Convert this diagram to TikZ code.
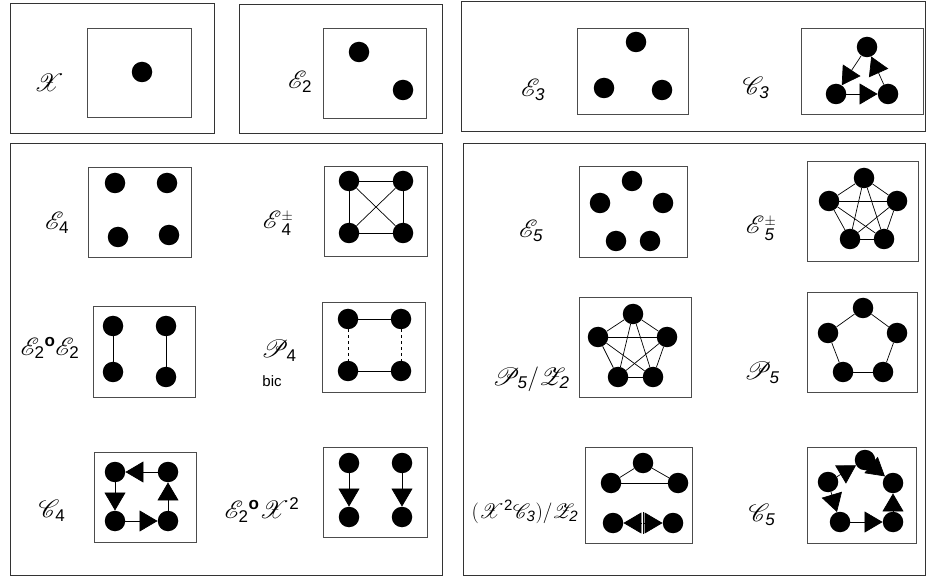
\documentclass[tikz,border=0pt]{standalone}
\usepackage{amsmath}
\usepackage{mathrsfs}
\usepackage{fontspec}
\setsansfont{Liberation Sans}
\usetikzlibrary{arrows.meta}
\DeclareMathSizes{24}{24}{17}{13}
\DeclareMathSizes{21}{21}{15}{12}

\tikzset{
  dot/.style={circle, fill=black, inner sep=0pt, minimum size=20.5pt},
  frame/.style={draw=black!80, line width=0.9pt},
  box/.style={draw=black!70, line width=0.8pt},
  lbl/.style={font=\fontsize{24}{28}\selectfont},
  edge/.style={line width=0.7pt},
  arr/.style={line width=0.7pt, -{Triangle[length=18pt,width=21pt]}},
}
% sign above, index below
\newcommand{\pmsub}[1]{\rlap{\raisebox{8pt}{\fontsize{14}{16}\selectfont$\pm$}}\raisebox{-7pt}{\sffamily\fontsize{17}{20}\selectfont #1}}

\begin{document}
\begin{tikzpicture}[x=1pt, y=-1pt]
  \useasboundingbox (0,0) rectangle (927,577);

  % outer panels
  \draw[frame] (10,3) rectangle (214,133);
  \draw[frame] (239,4) rectangle (442,133);
  \draw[frame] (461,1) rectangle (925,131);
  \draw[frame] (10,143) rectangle (442,575);
  \draw[frame] (463,143) rectangle (925,575);

  % graph boxes
  \foreach \xa/\ya/\xb/\yb in {87/28/191/117, 323/28/426/118, 577/28/688/114, 801/28/923/114,
      88/167/191/257, 324/166/427/256, 93/306/195/397, 322/302/425/392,
      94/452/196/542, 323/447/427/537,
      579/166/687/257, 807/161/918/261, 579/297/691/397, 807/292/917/392,
      585/447/692/543, 807/447/916/543} {
    \draw[box] (\xa,\ya) rectangle (\xb,\yb);
  }

  % labels
  \node[lbl] (lx) at (49,83) {$\mathscr{X}$};
  \node[lbl] (le2) at (300,82) {$\mathscr{E}_{\textsf{2}}$};
  \node[lbl] (le3) at (533,90) {$\mathscr{E}_{\textsf{\itshape 3}}$};
  \node[lbl] (lc3) at (756,88) {$\mathscr{C}_{\textsf{\itshape 3}}$};
  \node[lbl] (le4) at (57,223) {$\mathscr{E}_{\textsf{4}}$};
  \node[lbl] (le4pm) at (277,223) {$\mathscr{E}$\pmsub{4}};
  \node[lbl] (le2e2) at (50,348) {$\mathscr{E}_{\textsf{2}}{}^{\textsf{\bfseries o}}\mathscr{E}_{\textsf{2}}$};
  \node[lbl] (lp4) at (279,351) {$\mathscr{P}_{\textsf{4}}$};
  \node[font=\sffamily\fontsize{15}{18}\selectfont] (lbic) at (272,381) {bic};
  \node[lbl] (lc4) at (52,511) {$\mathscr{C}_{\textsf{4}}$};
  \node[lbl] (le2x2) at (262,510) {$\mathscr{E}_{\textsf{2}}{}^{\textsf{\bfseries o}}\mathscr{X}^{\textsf{2}}$};
  \node[lbl] (le5) at (531,231) {$\mathscr{E}_{\textsf{\itshape 5}}$};
  \node[lbl] (le5pm) at (760,228) {$\mathscr{E}$\pmsub{\itshape 5}};
  \node[lbl] (lp5z2) at (531,379) {$\mathscr{P}_{\textsf{\itshape 5}}/\mathscr{Z}_{\textsf{\itshape 2}}$};
  \node[lbl] (lp5) at (762,373) {$\mathscr{P}_{\textsf{\itshape 5}}$};
  \node[font=\fontsize{21}{25}\selectfont] (lx2c3) at (525,512) {$(\mathscr{X}^{\textsf{2}}\mathscr{C}_{\textsf{\itshape 3}})/\mathscr{Z}_{\textsf{\itshape 2}}$};
  \node[lbl] (lc5) at (762,515) {$\mathscr{C}_{\textsf{\itshape 5}}$};

  % vertices
  \foreach \n/\x/\y in {x1/142/72,
      ea/359/52, eb/403/90,
      fa/636/42, fb/604/88, fc/662/90,
      ca/867/47, cb/836/94, cc/888/94,
      ga/115/183, gb/167/183, gc/118/237, gd/169/235,
      ha/349/181, hb/403/181, hc/349/233, hd/403/233,
      ia/113/326, ib/113/372, ic/166/326, id/166/377,
      pa/348/319, pb/401/319, pc/348/371, pd/401/371,
      qa/115/472, qb/168/472, qc/115/521, qd/168/521,
      ra/349/463, rb/349/517, rc/402/463, rd/402/517,
      sa/632/181, sb/600/203, sc/663/203, sd/616/241, se/650/241,
      ta/864/178, tb/829/201, tc/897/201, td/850/239, te/884/239,
      ua/633/314, ub/598/337, uc/667/337, ud/618/377, ue/653/377,
      va/863/308, vb/828/333, vc/897/333, vd/843/372, ve/883/372,
      wa/643/463, wb/611/483, wc/678/483, wd/613/523, we/673/523,
      ka/865/460, kb/828/482, kc/893/483, kd/840/522, ke/893/522} {
    \node[dot] (\n) at (\x,\y) {};
  }

  % C3
  \draw[arr] (cb) -- (cc);
  \draw[arr] (cc) -- (ca);
  \draw[arr] (ca) -- (cb);

  % E4 with signs
  \foreach \a/\b in {ha/hb, hc/hd, ha/hc, hb/hd, ha/hd, hb/hc}
    \draw[edge] (\a) -- (\b);

  % E2 o E2
  \draw[edge] (ia) -- (ib);
  \draw[edge] (ic) -- (id);

  % P4 bic
  \draw[edge] (pa) -- (pb);
  \draw[edge] (pc) -- (pd);
  \draw[edge, dashed] (pa) -- (pc);
  \draw[edge, dashed] (pb) -- (pd);

  % C4
  \draw[arr] (qb) -- (qa);
  \draw[arr] (qa) -- (qc);
  \draw[arr] (qc) -- (qd);
  \draw[arr] (qd) -- (qb);

  % E2 o X^2
  \draw[arr] (ra) -- (rb);
  \draw[arr] (rc) -- (rd);

  % complete graphs on five
  \foreach \a/\b in {ta/tb, ta/tc, ta/td, ta/te, tb/tc, tb/td, tb/te, tc/td, tc/te, td/te}
    \draw[edge] (\a) -- (\b);
  \foreach \a/\b in {ua/ub, ua/uc, ua/ud, ua/ue, ub/uc, ub/ud, ub/ue, uc/ud, uc/ue, ud/ue}
    \draw[edge] (\a) -- (\b);

  % P5
  \foreach \a/\b in {va/vc, vc/ve, ve/vd, vd/vb, vb/va}
    \draw[edge] (\a) -- (\b);

  % (X^2 C3)/Z2
  \foreach \a/\b in {wa/wb, wa/wc, wb/wc}
    \draw[edge] (\a) -- (\b);
  \coordinate (wm) at (643,523);
  \draw[edge] ([yshift=-11pt]wm) -- ([yshift=11pt]wm);
  \draw[arr] ([xshift=-1pt]wm) -- (wd);
  \draw[arr] ([xshift=1pt]wm) -- (we);

  % C5
  \draw[arr] (kb) -- (ka);
  \draw[arr] (ka) -- (kc);
  \draw[arr] (ke) -- (kc);
  \draw[arr] (kd) -- (ke);
  \draw[arr] (kb) -- (kd);
\end{tikzpicture}
\end{document}
